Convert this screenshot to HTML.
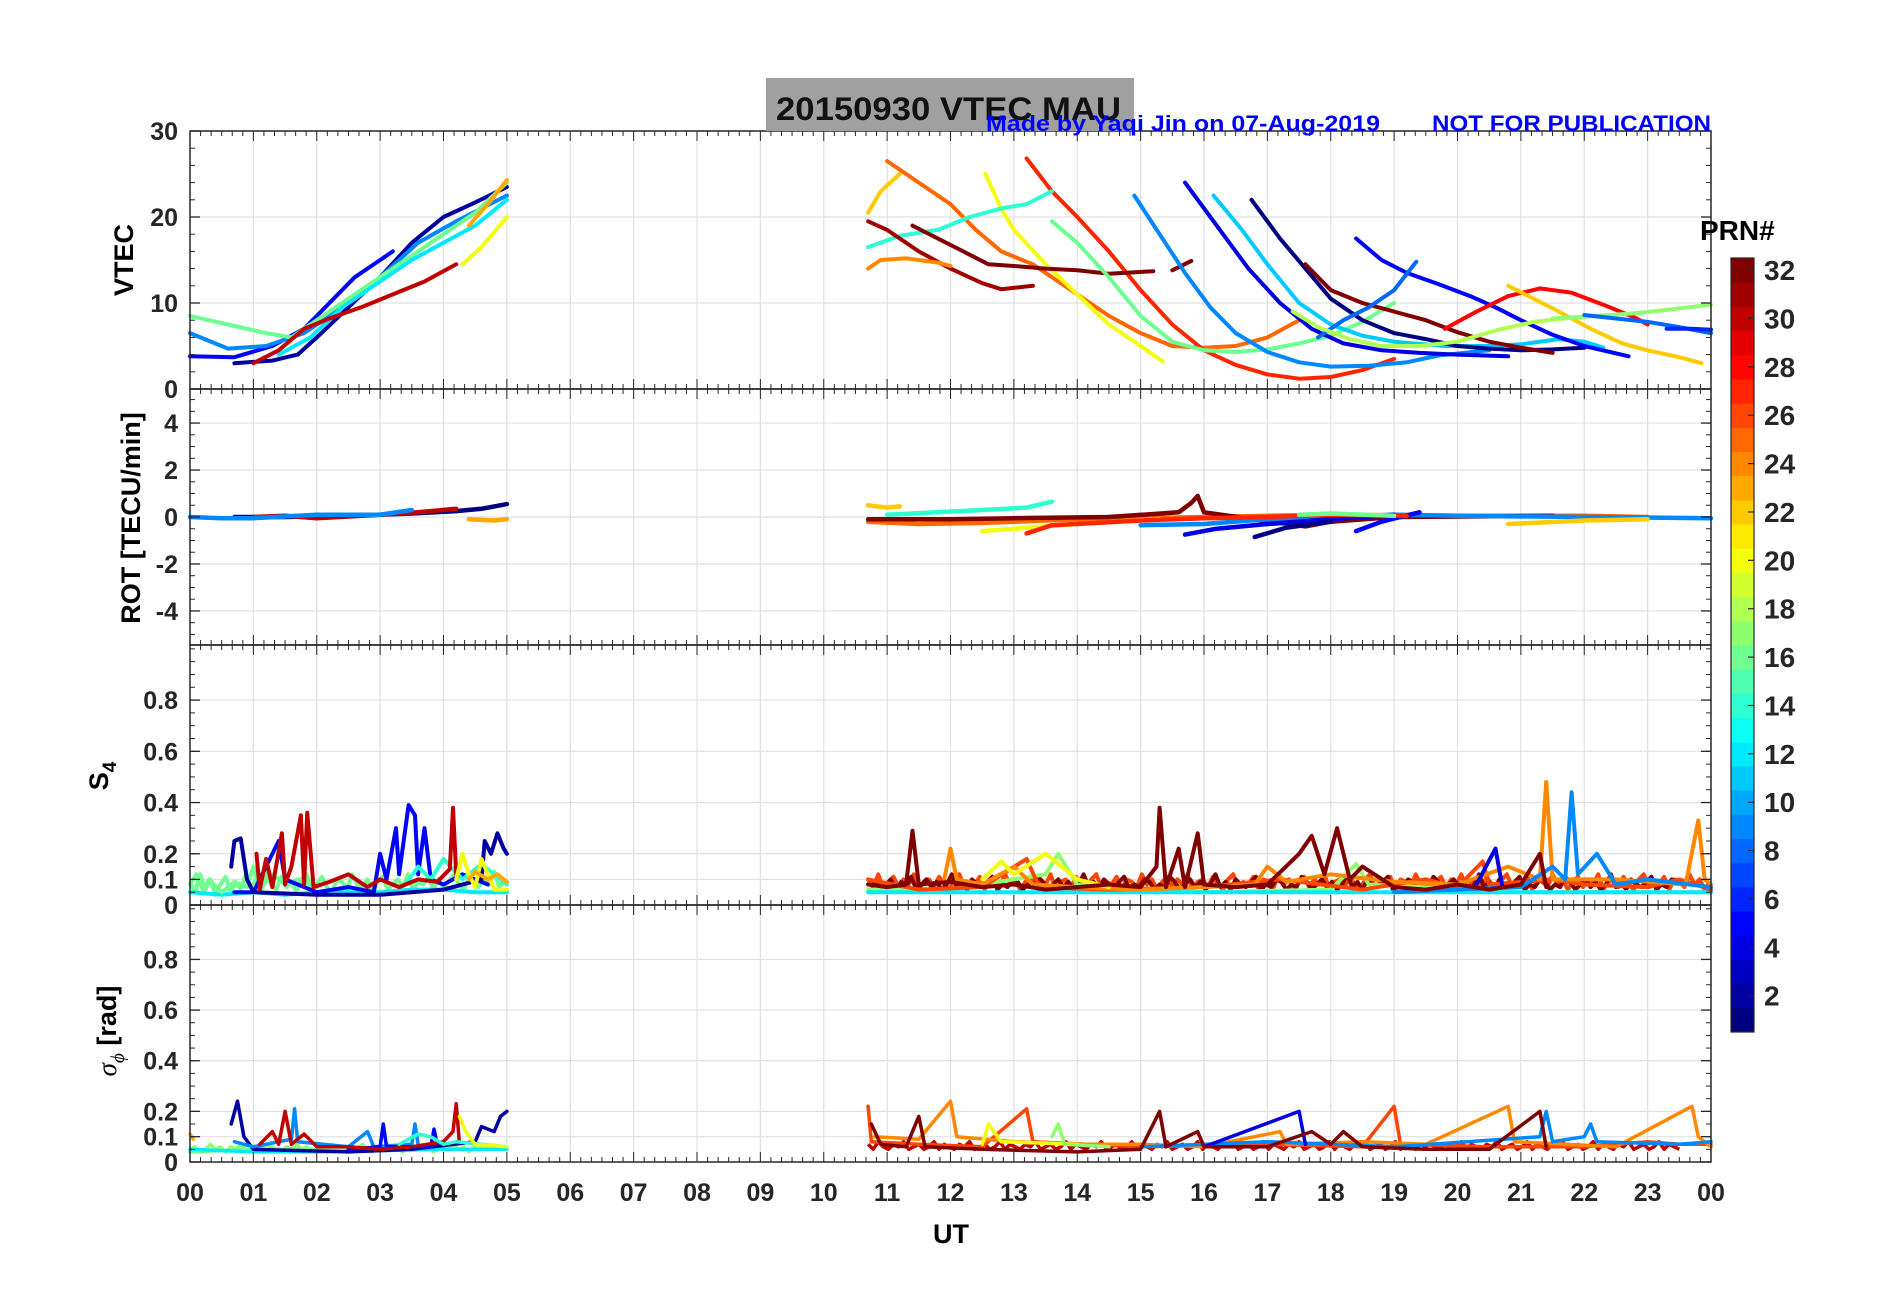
<!DOCTYPE html>
<html><head><meta charset="utf-8">
<style>
html,body{margin:0;padding:0;background:#fff;}
svg{display:block;font-family:"Liberation Sans",Arial,sans-serif;}
</style></head>
<body>
<svg id="fig" width="1902" height="1292" viewBox="0 0 1902 1292" xmlns="http://www.w3.org/2000/svg">
<rect x="0" y="0" width="1902" height="1292" fill="#fff"/>
<g id="grid"></g>
<g id="marks"></g>
<g id="axes"></g>
<rect x="766" y="78" width="368" height="53" fill="#a0a0a0"/>
<text x="776" y="120" font-size="32" font-weight="bold" fill="#111" textLength="345" lengthAdjust="spacingAndGlyphs">20150930    VTEC  MAU</text>
<text x="986" y="131" font-size="22" font-weight="bold" fill="#0000ff" textLength="394" lengthAdjust="spacingAndGlyphs">Made by Yaqi Jin on 07-Aug-2019</text>
<text x="1432" y="131" font-size="22" font-weight="bold" fill="#0000ff" textLength="279" lengthAdjust="spacingAndGlyphs">NOT FOR PUBLICATION</text>
<text transform="translate(133,260) rotate(-90)" text-anchor="middle" font-size="27" font-weight="bold">VTEC</text>
<text transform="translate(140,518) rotate(-90)" text-anchor="middle" font-size="27" font-weight="bold">ROT [TECU/min]</text>
<text transform="translate(108,776) rotate(-90)" text-anchor="middle" font-size="27" font-weight="bold">S<tspan font-size="19" dy="8">4</tspan></text>
<text transform="translate(116,1031) rotate(-90)" text-anchor="middle" font-size="27" font-weight="bold"><tspan font-family="Liberation Serif" font-style="italic" font-weight="normal">σ</tspan><tspan font-family="Liberation Serif" font-style="italic" font-weight="normal" font-size="19" dy="8">ϕ</tspan><tspan dy="-8"> [rad]</tspan></text>
<text x="951" y="1243" text-anchor="middle" font-size="27" font-weight="bold">UT</text>
<text x="1700" y="240" font-size="28" font-weight="bold">PRN#</text>
<g id="cbar"></g>
</svg>
<script>
// ---------- data ----------
const hourTicks = ["00","01","02","03","04","05","06","07","08","09","10","11","12","13","14","15","16","17","18","19","20","21","22","23","00"];
const vtecTicks = [0,10,20,30];
const rotTicks = [-4,-2,0,2,4];
const s4Ticks = [0,0.1,0.2,0.4,0.6,0.8];
const sigTicks = [0,0.1,0.2,0.4,0.6,0.8];
const cbarTicks = [2,4,6,8,10,12,14,16,18,20,22,24,26,28,30,32];

const vtecPrn = [2,5,9,16,12,30,20,23, 22,25,20,27,14,31,24,32,32,16,9,4,11,1,32,5,8,18,28,22,17,8,6];
const vtecTracks = [
 [[0.7,3],[1.3,3.3],[1.7,4],[2.0,6],[2.5,9.5],[3.0,13],[3.5,17],[4.0,20],[4.5,21.7],[5.0,23.5]],
 [[0,3.8],[0.7,3.7],[1.3,5],[1.8,7],[2.2,10],[2.6,13],[3.2,16]],
 [[0,6.5],[0.6,4.7],[1.2,5],[1.8,6.5],[2.4,9.5],[3.0,13],[3.6,17],[4.2,19.5],[5.0,22.5]],
 [[0,8.5],[0.6,7.5],[1.2,6.5],[1.6,6],[2.0,8],[2.5,10.5],[3.0,13],[3.5,15.5],[4.0,18],[4.5,20.5],[5.0,24]],
 [[1.4,4],[1.9,6],[2.4,9.5],[3.0,12.5],[3.5,15],[4.0,17],[4.5,19],[5.0,22]],
 [[1.0,3],[1.4,4.5],[1.8,7],[2.2,8.2],[2.7,9.5],[3.2,11],[3.7,12.5],[4.2,14.5]],
 [[4.3,14.5],[4.6,16.5],[5.0,20]],
 [[4.4,19],[4.7,21.5],[5.0,24.3]],
 [[10.7,20.5],[10.9,23],[11.2,25]],
 [[11.0,26.5],[11.5,24],[12.0,21.5],[12.4,18.5],[12.8,16],[13.3,14.5],[14.0,11],[14.5,8.5],[15.0,6.5],[15.5,5],[16.0,4.8],[16.5,5],[17.0,6],[17.5,8]],
 [[12.55,25],[12.8,21],[13.0,18.5],[13.5,14.5],[14.0,11],[14.5,7.5],[15.0,5],[15.35,3.2]],
 [[13.2,26.8],[13.6,23],[14.0,20],[14.5,16],[15.0,11.5],[15.5,7.5],[16.0,4.5],[16.5,2.8],[17.0,1.7],[17.5,1.2],[18.0,1.4],[18.5,2.2],[19.0,3.5]],
 [[10.7,16.5],[11.2,17.8],[11.8,18.5],[12.3,20],[12.8,21],[13.2,21.5],[13.6,23]],
 [[10.7,19.5],[11.0,18.5],[11.5,16],[12.0,14],[12.5,12.3],[12.8,11.6],[13.3,12]],
 [[10.7,14],[10.9,15],[11.3,15.2],[11.8,14.7],[12.0,14.3]],
 [[11.4,19],[11.8,17.5],[12.2,16],[12.6,14.5],[13.0,14.3],[13.5,14],[14.0,13.8],[14.5,13.4],[15.2,13.7]],
 [[15.5,13.8],[15.8,14.9]],
 [[13.6,19.5],[14.0,17],[14.5,13],[15.0,8.5],[15.5,5.5],[16.0,4.5],[16.5,4.3],[17.0,4.6],[17.5,5.3],[18.0,6.2],[18.5,7.8],[19.0,10]],
 [[14.9,22.5],[15.3,18],[15.7,13.5],[16.1,9.5],[16.5,6.5],[17.0,4.3],[17.5,3.1],[18.0,2.6],[18.6,2.7],[19.2,3.1],[19.7,3.9],[20.5,4.5]],
 [[15.7,24],[16.2,19],[16.7,14],[17.2,10],[17.7,7],[18.2,5.3],[18.8,4.5],[19.4,4.2],[20.0,4],[20.8,3.8]],
 [[16.15,22.5],[16.6,18.5],[17.0,14.5],[17.5,10],[18.0,7.5],[18.5,6.2],[19.0,5.5],[19.8,5],[20.5,5],[21.0,5.2],[21.6,5.8],[22.0,5.5],[22.3,4.8]],
 [[16.75,22],[17.2,17.5],[17.6,14],[18.0,10.5],[18.5,8],[19.0,6.5],[19.5,5.8],[20.0,5],[20.5,4.7],[21.0,4.5],[21.5,4.6],[22.0,4.8]],
 [[17.6,14.5],[18.0,11.5],[18.5,10],[19.0,9],[19.5,8],[20.0,6.6],[20.5,5.5],[21.0,4.8],[21.5,4.2]],
 [[18.4,17.5],[18.8,15],[19.2,13.5],[19.7,12.2],[20.2,10.8],[20.6,9.5],[21.0,8],[21.5,6.3],[22.0,5],[22.7,3.8]],
 [[17.8,6],[18.2,8],[18.6,9.5],[19.0,11.5],[19.35,14.8]],
 [[17.4,9],[17.8,7.2],[18.3,5.8],[18.8,5],[19.4,5],[20.0,5.5],[20.6,6.8],[21.2,7.8],[21.8,8.3],[22.2,8.5]],
 [[19.8,7],[20.3,9],[20.8,10.8],[21.3,11.7],[21.8,11.2],[22.3,9.8],[22.8,8.3],[23.0,7.5]],
 [[20.8,12],[21.2,10.5],[21.6,9],[22.1,7],[22.6,5.3],[23.0,4.5],[23.5,3.7],[23.85,3]],
 [[21.5,8.2],[22.2,8.5],[22.8,8.8],[23.3,9.2],[24.0,9.8]],
 [[22.0,8.6],[22.5,8.2],[23.0,7.8],[23.5,7.2],[24.0,6.5]],
 [[23.3,7],[23.7,7],[24.0,6.9]]
];

const rotPrn = [1,30,23,9,25,22,20,32,14,9,4,1,5,27,22,16];
const rotTracks = [
 [[0.7,0],[1.5,0],[2.5,0.05],[3.5,0.15],[4.2,0.25],[4.6,0.35],[5.0,0.55]],
 [[1.0,0],[1.5,0.05],[2.0,-0.05],[3.0,0.1],[3.6,0.2],[4.2,0.35]],
 [[4.4,-0.1],[4.8,-0.15],[5.0,-0.1]],
 [[0,0],[0.5,-0.05],[1.0,-0.05],[2.0,0.1],[3.0,0.1],[3.5,0.3]],
 [[10.7,-0.2],[11.5,-0.3],[12.5,-0.25],[14.0,-0.1],[16.0,0],[18.0,0.1],[20.0,0.05],[22.0,0.05],[23.0,0]],
 [[10.7,0.5],[11.0,0.4],[11.2,0.45]],
 [[12.5,-0.6],[13.0,-0.5],[14.0,-0.3],[15.3,-0.1]],
 [[10.7,-0.1],[12.0,-0.1],[13.0,-0.05],[14.5,0],[15.6,0.2],[15.8,0.6],[15.9,0.9],[16.0,0.2],[17.6,-0.4],[18.0,-0.2],[19.0,0],[21.5,0.05]],
 [[11.0,0.1],[12.5,0.3],[13.2,0.4],[13.6,0.65]],
 [[15.0,-0.35],[16.0,-0.3],[17.0,-0.1],[19.0,0.1],[20.0,0.05],[22.0,0],[24.0,-0.05]],
 [[15.7,-0.75],[16.2,-0.5],[17.0,-0.3],[18.0,-0.1],[19.0,0.1]],
 [[16.8,-0.85],[17.3,-0.45],[18.0,-0.2]],
 [[18.4,-0.6],[18.8,-0.2],[19.4,0.2]],
 [[13.2,-0.7],[13.6,-0.35],[15.0,-0.15],[16.0,-0.05],[17.0,0],[18.0,0.1],[19.2,0.05]],
 [[20.8,-0.3],[22.0,-0.15],[23.0,-0.1]],
 [[17.5,0.1],[18.0,0.15],[19.0,0.05]]
];

const s4NoiseA_start = 0.0, s4NoiseA_step = 0.08;
const s4NoiseA_vals = [.09,.05,.12,.06,.1,.04,.08,.11,.05,.09,.06,.12,.07,.1,.05,.13,.08,.06,.11,.07,.09,.05,.1,.12,.06,.08,.11,.07,.05,.1,.09,.06,.12,.08,.07,.1,.05,.09,.11,.06,.08,.1,.07,.12,.06,.09,.08,.11,.06,.1,.07,.09,.12,.08,.06,.1,.09,.07,.11,.08,.13,.07,.1];
const s4NoiseB_start = 10.7, s4NoiseB_step = 0.08;
const s4NoiseB_vals = [.1,.07,.12,.06,.09,.11,.07,.1,.08,.12,.06,.09,.1,.07,.11,.08,.06,.1,.12,.07,.09,.08,.11,.06,.1,.09,.07,.12,.08,.1,.06,.09,.11,.07,.1,.08,.12,.06,.09,.1,.07,.11,.08,.06,.1,.12,.07,.09,.08,.11,.06,.1,.09,.07,.12,.08,.1,.06,.09,.11,.07,.1,.08,.12,.06,.09,.1,.07,.11,.08,.06,.1,.12,.07,.09,.08,.11,.06,.1,.09,.07,.12,.08,.1,.06,.09,.11,.07,.1,.08,.12,.06,.09,.1,.07,.11,.08,.06,.1,.12,.07,.09,.08,.11,.06,.1,.09,.07,.12,.08,.1,.06,.09,.11,.07,.1,.08,.12,.06,.09,.1,.07,.11,.08,.06,.1,.12,.07,.09,.08,.11,.06,.1,.09,.07,.12,.08,.1,.06,.09,.11,.07,.1,.08,.12,.06,.09,.1,.07,.11,.08,.06,.1,.12,.07,.09,.08,.11,.06,.1,.09,.07,.12,.08,.1,.06,.09,.11,.07];
const s4NoiseC_vals = [.07,.09,.06,.08,.1,.05,.09,.07,.11,.06,.08,.1,.07,.09,.06,.08,.12,.07,.09,.06,.1,.08,.07,.09,.11,.06,.08,.07,.1,.09,.06,.08,.07,.11,.09,.06,.08,.1,.07,.09,.06,.08,.12,.07,.09,.06,.1,.08,.07,.09,.11,.06,.08,.07,.1,.09,.06,.08,.07,.11,.09,.06,.08,.1,.07,.09,.06,.08,.12,.07,.09,.06,.1,.08,.07,.09,.11,.06,.08,.07,.1,.09,.06,.08,.07,.11,.09,.06,.08,.1,.07,.09,.06,.08,.12,.07,.09,.06,.1,.08,.07,.09,.11,.06,.08,.07,.1,.09,.06,.08,.07,.11,.09,.06,.08,.1,.07,.09,.06,.08,.12,.07,.09,.06,.1,.08,.07,.09,.11,.06,.08,.07,.1,.09,.06,.08,.07,.11,.09,.06,.08,.1,.07,.09,.06,.08,.12,.07,.09,.06,.1,.08,.07,.09,.11,.06,.08,.07,.1,.09];
const sigNoiseA_vals = [.05,.06,.04,.05,.07,.05,.06,.04,.06,.05,.07,.05,.04,.06,.05,.07,.06,.05,.04,.06,.05,.07,.05,.06,.04,.05,.06,.05,.07,.05,.06,.04,.06,.05,.07,.05,.04,.06,.05,.07,.06,.05,.04,.06,.05,.07,.05,.06,.04,.05,.06,.05,.07,.05,.06,.04,.06,.05,.07,.05,.06,.05,.06];
const sigNoiseB_vals = [.07,.05,.08,.06,.05,.07,.06,.08,.05,.06,.07,.05,.06,.08,.05,.07,.06,.05,.07,.06,.08,.05,.06,.07,.05,.06,.08,.05,.07,.06,.05,.07,.06,.08,.05,.06,.07,.05,.06,.08,.05,.07,.06,.05,.07,.06,.08,.05,.06,.07,.05,.06,.08,.05,.07,.06,.05,.07,.06,.08,.05,.06,.07,.05,.06,.08,.05,.07,.06,.05,.07,.06,.08,.05,.06,.07,.05,.06,.08,.05,.07,.06,.05,.07,.06,.08,.05,.06,.07,.05,.06,.08,.05,.07,.06,.05,.07,.06,.08,.05,.06,.07,.05,.06,.08,.05,.07,.06,.05,.07,.06,.08,.05,.06,.07,.05,.06,.08,.05,.07,.06,.05,.07,.06,.08,.05,.06,.07,.05,.06,.08,.05,.07,.06,.05,.07,.06,.08,.05,.06,.07,.05,.06,.08,.05,.07,.06,.05,.07,.06,.08,.05,.06,.07,.05,.06,.08,.05,.07,.06,.05];

const s4Prn = [12,16,5,2,14,30,20,23,17,12,26,24,20,9,4,32];
const s4Tracks = [
 [[0,.05],[0.5,.04],[1,.05],[1.5,.04],[2,.05],[2.5,.05],[3,.05],[3.5,.06],[4,.06],[4.5,.05],[5,.05]],
 [[0,.08],[0.1,.12],[0.2,.06],[0.3,.1],[0.5,.05],[0.7,.09],[0.9,.07],[1.0,.15],[1.1,.06],[1.3,.12],[1.5,.08],[1.7,.1],[2.0,.07]],
 [[0.7,.05],[1.0,.05],[1.4,.25],[1.5,.1],[2.0,.05],[2.5,.07],[2.9,.05],[3.0,.2],[3.1,.1],[3.25,.3],[3.3,.12],[3.45,.39],[3.55,.35],[3.6,.12],[3.7,.3],[3.8,.1],[4.0,.08],[4.3,.12],[4.7,.08]],
 [[0.65,.15],[0.7,.25],[0.8,.26],[0.9,.1],[1.0,.05],[2.0,.04],[3.0,.04],[4.0,.06],[4.6,.1],[4.65,.25],[4.75,.2],[4.85,.28],[4.95,.22],[5.0,.2]],
 [[3.4,.08],[3.6,.15],[3.8,.1],[4.0,.18],[4.3,.1],[4.6,.16],[5.0,.08]],
 [[1.05,.2],[1.1,.06],[1.2,.18],[1.3,.07],[1.45,.28],[1.5,.08],[1.6,.15],[1.75,.35],[1.8,.08],[1.85,.36],[1.95,.07],[2.2,.09],[2.5,.12],[2.8,.07],[3.0,.1],[3.3,.07],[3.6,.1],[3.9,.09],[4.1,.14],[4.15,.38],[4.2,.12]],
 [[4.2,.1],[4.3,.2],[4.4,.12],[4.5,.07],[4.6,.18],[4.8,.06],[5.0,.06]],
 [[4.4,.1],[4.5,.13],[4.7,.1],[4.85,.12],[5.0,.09]],
 [[10.7,.06],[12.0,.06],[13.5,.12],[13.7,.2],[14.0,.08],[16.0,.05],[18.0,.06],[18.4,.16],[18.6,.08],[21.0,.05],[23.5,.05],[24.0,.05]],
 [[10.7,.05],[13.0,.05],[16.0,.05],[19.0,.05],[22.0,.05],[24.0,.05]],
 [[10.7,.1],[11.5,.06],[12.5,.07],[13.2,.18],[13.4,.07],[14.5,.06],[16.0,.07],[17.2,.1],[18.5,.06],[19.5,.1],[20.0,.07],[20.4,.17],[20.5,.08],[21.5,.1],[22.0,.08],[23.0,.07],[23.5,.1],[24.0,.06]],
 [[11.9,.1],[12.0,.22],[12.1,.1],[12.5,.08],[13.0,.15],[13.3,.08],[14.0,.07],[15.0,.06],[16.0,.07],[16.8,.08],[17.0,.15],[17.3,.09],[18.0,.12],[19.0,.09],[20.0,.08],[20.8,.15],[21.3,.1],[21.4,.48],[21.5,.1],[22.5,.1],[23.6,.08],[23.8,.33],[23.9,.1],[24.0,.08]],
 [[12.5,.1],[12.8,.17],[13.0,.12],[13.5,.2],[14.0,.1],[14.5,.07]],
 [[19.0,.05],[20.0,.06],[21.0,.07],[21.5,.15],[21.7,.1],[21.8,.44],[21.9,.12],[22.2,.2],[22.5,.08],[23.0,.1],[24.0,.07]],
 [[20.3,.08],[20.6,.22],[20.7,.08]],
 [[10.7,.08],[11.0,.07],[11.3,.08],[11.4,.29],[11.5,.08],[12.0,.09],[12.5,.07],[13.0,.08],[13.5,.06],[14.0,.07],[14.5,.08],[15.0,.07],[15.25,.15],[15.3,.38],[15.4,.07],[15.6,.22],[15.7,.07],[15.9,.28],[16.0,.08],[16.5,.07],[17.0,.08],[17.5,.2],[17.7,.27],[17.9,.12],[18.1,.3],[18.3,.1],[18.5,.15],[19.0,.07],[19.5,.06],[20.0,.08],[20.5,.06],[21.0,.08],[21.3,.2],[21.4,.07]]
];

const sigPrn = [16,12,2,9,5,30,14,20,23,26,24,20,17,9,4,32];
const sigTracks = [
 [[0,.04],[0.5,.045],[1,.05],[1.5,.05],[2,.05],[2.5,.04],[3,.045],[3.5,.05],[4,.05],[4.5,.05],[5,.05]],
 [[0,.05],[1,.04],[2,.04],[3,.045],[4,.05],[5,.05]],
 [[0.65,.15],[0.75,.24],[0.85,.1],[1.0,.05],[2.5,.04],[3.5,.05],[4.5,.08],[4.6,.14],[4.8,.12],[4.9,.18],[5.0,.2]],
 [[0.7,.08],[1.0,.06],[1.6,.09],[1.65,.21],[1.7,.08],[2.5,.06],[2.8,.12],[2.9,.06],[3.5,.07],[3.55,.15],[3.6,.07]],
 [[2.5,.05],[3.0,.06],[3.05,.15],[3.1,.06],[3.8,.06],[3.85,.13],[3.9,.07]],
 [[1.1,.07],[1.3,.12],[1.4,.07],[1.5,.2],[1.6,.07],[1.8,.11],[2.0,.06],[2.5,.06],[3.0,.05],[3.5,.06],[4.0,.08],[4.15,.12],[4.2,.23],[4.25,.08]],
 [[3.3,.07],[3.6,.11],[3.8,.1],[4.0,.07],[4.2,.08],[5.0,.06]],
 [[4.25,.18],[4.35,.12],[4.5,.07],[5.0,.06]],
 [[0,.11],[0.05,.09]],
 [[10.7,.22],[10.75,.08],[11.5,.07],[12.5,.06],[13.2,.21],[13.3,.08],[15.0,.06],[17.0,.07],[18.5,.06],[19.0,.22],[19.1,.07],[20.5,.06],[22.0,.06],[23.0,.08],[23.5,.07],[24.0,.07]],
 [[10.8,.1],[11.5,.09],[12.0,.24],[12.1,.1],[13.0,.08],[14.0,.07],[15.0,.07],[16.0,.06],[17.2,.12],[17.3,.07],[18.5,.08],[19.5,.07],[20.8,.22],[20.9,.08],[22.5,.06],[23.7,.22],[23.8,.1],[24,.06]],
 [[12.5,.07],[12.6,.15],[12.8,.08],[14.0,.07]],
 [[13.6,.1],[13.7,.15],[13.8,.07],[14.5,.06]],
 [[15.0,.06],[17.0,.08],[19.0,.06],[21.3,.1],[21.4,.2],[21.5,.08],[22.0,.1],[22.1,.15],[22.2,.08],[23.5,.07],[24.0,.08]],
 [[16.0,.06],[17.5,.2],[17.6,.07]],
 [[10.75,.15],[10.9,.07],[11.3,.06],[11.5,.18],[11.6,.06],[12.5,.05],[14.0,.04],[15.0,.05],[15.3,.2],[15.4,.06],[15.9,.12],[16.0,.06],[17.0,.06],[17.7,.12],[18.0,.07],[18.2,.12],[18.5,.06],[19.5,.05],[20.5,.05],[21.3,.2],[21.4,.06]]
];
const noiseSeries = [
 ['s4',16,s4NoiseA_start,s4NoiseA_step,s4NoiseA_vals],
 ['s4',26,s4NoiseB_start,s4NoiseB_step,s4NoiseB_vals],
 ['s4',32,10.74,0.08,s4NoiseC_vals],
 ['sigma',17,0.0,0.08,sigNoiseA_vals],
 ['sigma',30,10.7,0.08,sigNoiseB_vals]
];

// ---------- layout ----------
const L=190, R=1711;
const panels=[
 {name:'vtec', top:131, bot:389, min:0, max:30, ticks:vtecTicks, minor:2, fmt:v=>String(v), prn:vtecPrn, tracks:vtecTracks, sw:4},
 {name:'rot', top:389, bot:645, min:-5.45, max:5.45, ticks:rotTicks, minor:0.5, fmt:v=>String(v), prn:rotPrn, tracks:rotTracks, sw:4.5},
 {name:'s4', top:645, bot:905, min:0, max:1.015, ticks:s4Ticks, minor:0.05, fmt:v=>v===0?'0':String(v), prn:s4Prn, tracks:s4Tracks, sw:4},
 {name:'sigma', top:905, bot:1162, min:0, max:1.015, ticks:sigTicks, minor:0.05, fmt:v=>v===0?'0':String(v), prn:sigPrn, tracks:sigTracks, sw:3.5}
];
const xs=h=>L+(R-L)*h/24;
function jet(prn){
 const t=(prn-1)/31;
 const c=x=>Math.round(255*Math.max(0,Math.min(1,x)));
 return `rgb(${c(1.5-Math.abs(4*t-3))},${c(1.5-Math.abs(4*t-2))},${c(1.5-Math.abs(4*t-1))})`;
}
const NS='http://www.w3.org/2000/svg';
function mk(tag,attrs,parent){const e=document.createElementNS(NS,tag);for(const k in attrs)e.setAttribute(k,attrs[k]);parent.appendChild(e);return e;}
const G=document.getElementById('grid'), M=document.getElementById('marks'), A=document.getElementById('axes');

panels.forEach(p=>{
 const ys=v=>p.bot-(p.bot-p.top)*(v-p.min)/(p.max-p.min);
 p.ys=ys;
 for(let h=1;h<24;h++){
  const gl=mk('line',{x1:xs(h),x2:xs(h),y1:p.top,y2:p.bot,stroke:'#e0e0e0','stroke-width':1.2},G);
  
  
 }
 p.ticks.forEach(v=>{
  const y=ys(v);
  if(v!==p.min){const gl=mk('line',{x1:L,x2:R,y1:y,y2:y,stroke:'#e0e0e0','stroke-width':1.2},G);
   
   }
  const t=mk('text',{x:178,y:y+9,'text-anchor':'end','font-size':25,'font-weight':'bold',fill:'#262626'},A);
  t.textContent=p.fmt(v);
  
  
  mk('line',{x1:L,x2:L+10,y1:y,y2:y,stroke:'#262626','stroke-width':1.3},A);
  mk('line',{x1:R,x2:R-10,y1:y,y2:y,stroke:'#262626','stroke-width':1.3},A);
 });
 for(let v=Math.ceil(p.min/p.minor)*p.minor; v<=p.max+1e-9; v+=p.minor){
  const y=ys(v);
  mk('line',{x1:L,x2:L+5,y1:y,y2:y,stroke:'#262626','stroke-width':1},A);
  mk('line',{x1:R,x2:R-5,y1:y,y2:y,stroke:'#262626','stroke-width':1},A);
 }
 for(let m=0;m<=144;m++){
  const x=xs(m/6), len=(m%6===0)?10:5;
  mk('line',{x1:x,x2:x,y1:p.bot,y2:p.bot-len,stroke:'#262626','stroke-width':1},A);
  mk('line',{x1:x,x2:x,y1:p.top,y2:p.top+len,stroke:'#262626','stroke-width':1},A);
 }
 const box=mk('rect',{x:L,y:p.top,width:R-L,height:p.bot-p.top,fill:'none',stroke:'#262626','stroke-width':1.5},A);
 
 
});
noiseSeries.forEach(ns=>{
 const p=panels.find(q=>q.name===ns[0]);
 const pts=ns[4].map((v,j)=>[ns[2]+j*ns[3],v]).filter(pt=>pt[0]<=24);
 const d=pts.map((pt,j)=>(j?'L':'M')+xs(pt[0]).toFixed(1)+' '+p.ys(pt[1]).toFixed(1)).join(' ');
 const path=mk('path',{d:d,fill:'none',stroke:jet(ns[1]),'stroke-width':p.sw,'stroke-linejoin':'round'},M);
 
 
});
panels.forEach(p=>{
 p.tracks.forEach((tr,i)=>{
  const d=tr.map((pt,j)=>(j?'L':'M')+xs(pt[0]).toFixed(1)+' '+p.ys(pt[1]).toFixed(1)).join(' ');
  const path=mk('path',{d:d,fill:'none',stroke:jet(p.prn[i]),'stroke-width':p.sw,'stroke-linejoin':'round','stroke-linecap':'round'},M);
  
  
 });
});
hourTicks.forEach((s,i)=>{
 const t=mk('text',{x:xs(i),y:1201,'text-anchor':'middle','font-size':25,'font-weight':'bold',fill:'#262626'},A);
 t.textContent=s;
 
 
});
const C=document.getElementById('cbar');
const cbTop=258, cbBot=1032, cbX=1731, cbW=23;
const cy=v=>cbBot-(cbBot-cbTop)*(v-0.5)/32;
for(let k=1;k<=32;k++){
 const r=mk('rect',{x:cbX,y:cy(k+0.5),width:cbW,height:cy(k-0.5)-cy(k+0.5)+0.5,fill:jet(k)},C);
 
 
}
mk('rect',{x:cbX,y:cbTop,width:cbW,height:cbBot-cbTop,fill:'none',stroke:'#262626','stroke-width':1.2},C);
cbarTicks.forEach(v=>{
 const y=cy(v);
 mk('line',{x1:cbX+cbW-6,x2:cbX+cbW,y1:y,y2:y,stroke:'#262626','stroke-width':1.2},C);
 const t=mk('text',{x:1764,y:y+10,'font-size':28,'font-weight':'bold',fill:'#262626'},C);
 t.textContent=v;
 
 
});
</script>
</body></html>
